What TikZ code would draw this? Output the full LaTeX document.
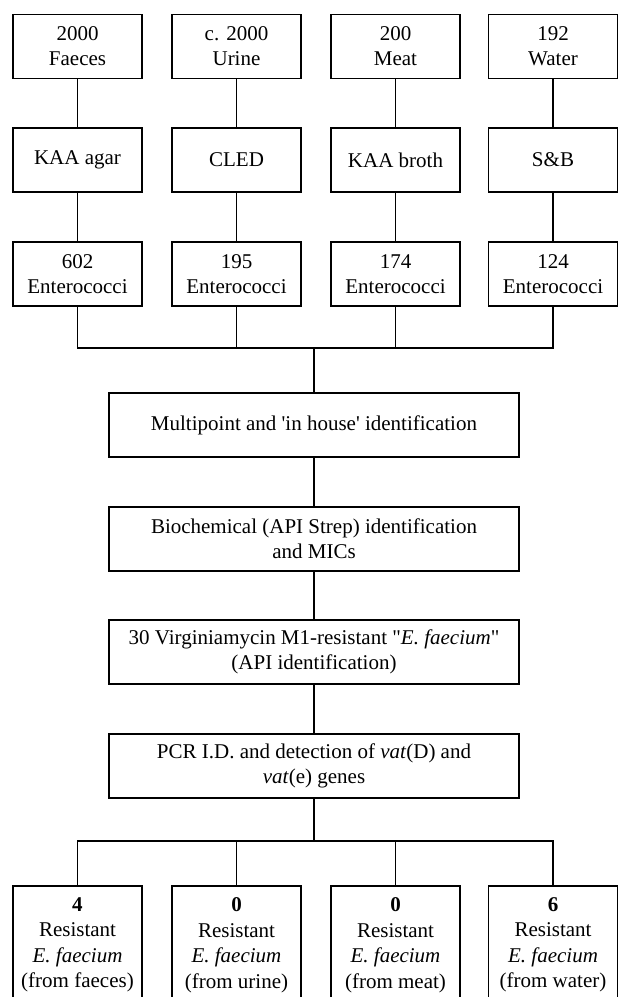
\documentclass[tikz,border=0pt]{standalone}
\usepackage{fontspec}
\setmainfont{Liberation Serif}
\usepackage{tikz}

\begin{document}
\begin{tikzpicture}[x=0.5pt,y=0.5pt,yscale=-1,
  box/.style={draw,line width=0.6pt,align=center,inner sep=0pt,font=\fontsize{10.5}{12.6}\selectfont},
  colbox/.style={box,minimum width=64.5pt,minimum height=32pt},
  midbox/.style={box,minimum width=205pt,minimum height=32pt},
  resbox/.style={box,minimum width=64.5pt,minimum height=59pt,font=\fontsize{10.5}{12.75}\selectfont},
  link/.style={line width=0.6pt}]
\useasboundingbox (0,0) rectangle (618,997);
\clip (0,0) rectangle (618,997);

% Samples
\node [colbox] (s1) at (77.5,46.5) {2000\\Faeces};
\node [colbox] (s2) at (236.5,46.5) {c. 2000\\Urine};
\node [colbox] (s3) at (395.5,46.5) {200\\Meat};
\node [colbox] (s4) at (553,46.5) {192\\Water};
% Media
\node [colbox] (m1) at (77.5,160) {KAA agar};
\node [colbox] (m2) at (236.5,160) {CLED};
\node [colbox] (m3) at (395.5,160) {KAA broth};
\node [colbox] (m4) at (553,160) {S\&B};
% Isolates
\node [colbox] (e1) at (77.5,274) {602\\Enterococci};
\node [colbox] (e2) at (236.5,274) {195\\Enterococci};
\node [colbox] (e3) at (395.5,274) {174\\Enterococci};
\node [colbox] (e4) at (553,274) {124\\Enterococci};

% Identification steps
\node [midbox] (multi) at (314,425) {Multipoint and \textquotesingle in house\textquotesingle\ identification};
\node [midbox] (bio) at (314,539) {Biochemical (API Strep) identification\\and MICs};
\node [midbox] (virg) at (314,652) {30 Virginiamycin M1-resistant \textquotedbl\textit{E. faecium}\textquotedbl\\(API identification)};
\node [midbox] (pcr) at (314,766) {PCR I.D. and detection of \textit{vat}(D) and\\\textit{vat}(e) genes};

% Results
\node [resbox] (r1) at (77.5,945) {\textbf{4}\\Resistant\\\textit{E. faecium}\\(from faeces)};
\node [resbox] (r2) at (236.5,945) {\textbf{0}\\Resistant\\\textit{E. faecium}\\(from urine)};
\node [resbox] (r3) at (395.5,945) {\textbf{0}\\Resistant\\\textit{E. faecium}\\(from meat)};
\node [resbox] (r4) at (553,945) {\textbf{6}\\Resistant\\\textit{E. faecium}\\(from water)};

\coordinate (busA) at (314,348);
\coordinate (busB) at (314,841);

% Columns
\foreach \i in {1,...,4} {
  \draw [link] (s\i) -- (m\i);
  \draw [link] (m\i) -- (e\i);
}
% Gathering bus
\draw [link] (e1.south) |- (busA);
\draw [link] (e4.south) |- (busA);
\draw [link] (e2.south) -- (e2.south |- busA);
\draw [link] (e3.south) -- (e3.south |- busA);
\draw [link] (busA) -- (multi);
% Steps
\draw [link] (multi) -- (bio);
\draw [link] (bio) -- (virg);
\draw [link] (virg) -- (pcr);
% Splitting bus
\draw [link] (pcr) -- (busB);
\draw [link] (busB) -| (r1.north);
\draw [link] (busB) -| (r4.north);
\draw [link] (r2.north |- busB) -- (r2.north);
\draw [link] (r3.north |- busB) -- (r3.north);

\end{tikzpicture}
\end{document}
